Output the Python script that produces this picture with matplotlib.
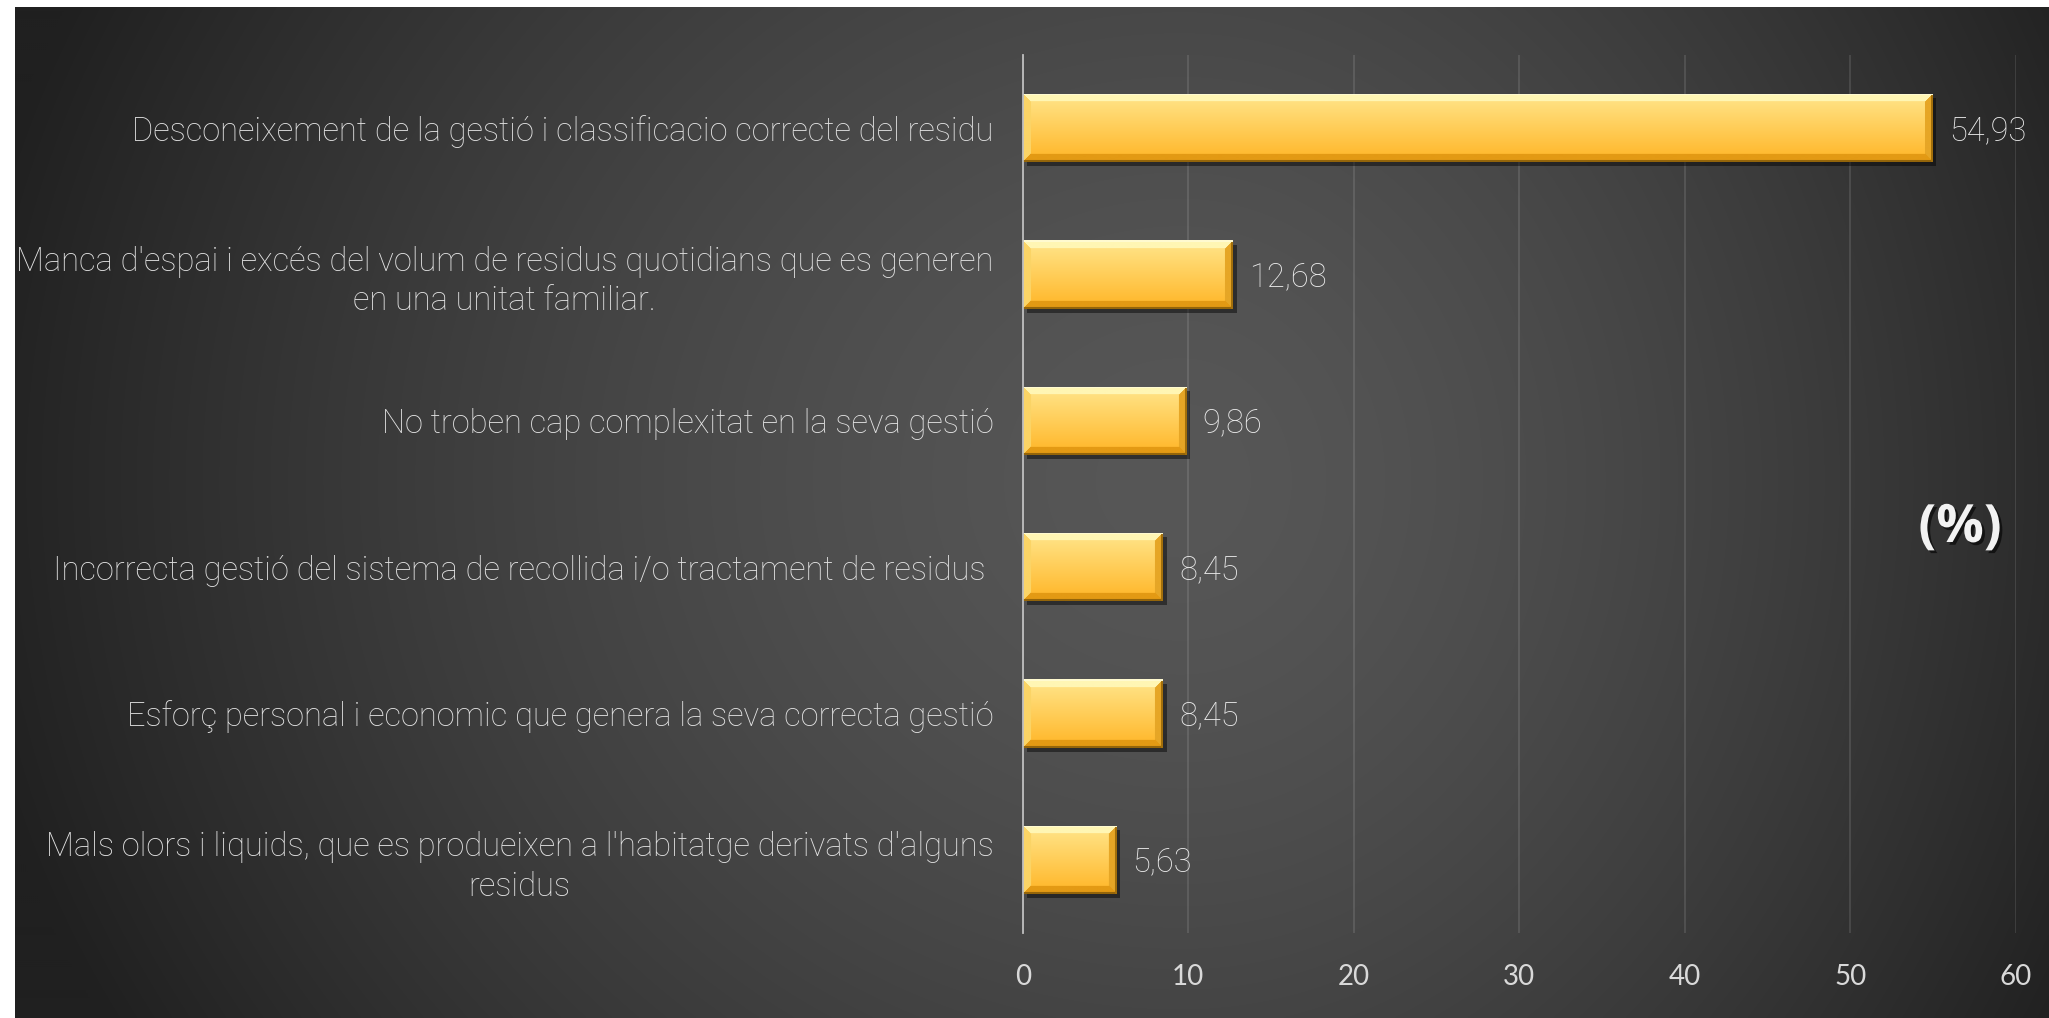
import matplotlib
matplotlib.use('Agg')
import matplotlib.pyplot as plt
import matplotlib.patheffects as pe
import numpy as np

# data
categories = [
    'Desconeixement de la gestió i classificacio correcte del residu',
    "Manca d'espai i excés del volum de residus quotidians que es generen\nen una unitat familiar.",
    'No troben cap complexitat en la seva gestió',
    'Incorrecta gestió del sistema de recollida i/o tractament de residus ',
    'Esforç personal i economic que genera la seva correcta gestió',
    "Mals olors i liquids, que es produeixen a l'habitatge derivats d'alguns\nresidus",
]
values = [54.93, 12.68, 9.86, 8.45, 8.45, 5.63]
value_labels = ['54,93', '12,68', '9,86', '8,45', '8,45', '5,63']
xticks = [0, 10, 20, 30, 40, 50, 60]

W, H, DPI = 2049, 1018, 100
fig = plt.figure(figsize=(W / DPI, H / DPI), dpi=DPI)
fig.patch.set_facecolor('white')

# dark panel with radial gradient
bg = fig.add_axes([15 / W, 0, 1 - 15 / W, 1 - 7 / H], zorder=0)
bg.axis('off')
gx, gy = np.meshgrid(np.arange(15, W, 2), np.arange(7, H, 2))
cx, cy = 1180, 480
dx = gx - cx
rx = np.where(dx < 0, 1170.0, 960.0)
r = np.sqrt((dx / rx) ** 2 + ((gy - cy) / 1060.0) ** 2)
c0, c1 = 87, 36
val = np.clip(c0 - (c0 - c1) * r ** 1.5, c1 - 4, c0) / 255.0
bg.imshow(np.dstack([val, val, val]), extent=(0, 1, 0, 1), aspect='auto',
          interpolation='bilinear', origin='upper')
bg.set_xlim(0, 1)
bg.set_ylim(0, 1)

# main chart
ax = fig.add_axes([1022.7 / W, 1 - 933 / H, (2016 - 1022.7) / W, (933 - 55) / H], zorder=2)
ax.patch.set_alpha(0)
ypos = np.arange(len(categories))
bars = ax.barh(ypos, values, height=0.465, color='#FFC83C', zorder=3,
               path_effects=[pe.SimplePatchShadow(offset=(3, -3), shadow_rgbFace='black', alpha=0.45),
                             pe.Normal()])
ax.set_xlim(0, 60)
ax.set_ylim(len(categories) - 0.5, -0.5)
ax.set_xticks(xticks)
ax.set_xticklabels([str(t) for t in xticks])
ax.set_yticks(ypos)
ax.set_yticklabels(categories)
ax.tick_params(axis='both', length=0)
ax.tick_params(axis='y', pad=21)
ax.tick_params(axis='x', pad=22)
for lab in ax.get_yticklabels():
    lab.set_multialignment('center')
    lab.set_family('Roboto')
    lab.set_weight('light')
    lab.set_fontsize(23.5)
    lab.set_color('#E2E2E2')
    lab.set_linespacing(1.3)
for lab in ax.get_xticklabels():
    lab.set_family('Lato')
    lab.set_fontsize(20)
    lab.set_color('#D9D9D9')
ax.grid(axis='x', color='white', alpha=0.13, linewidth=1.2, zorder=1)
ax.set_axisbelow(True)
for s in ['top', 'right', 'bottom']:
    ax.spines[s].set_visible(False)
ax.spines['left'].set_color('#BFBFBF')
ax.spines['left'].set_linewidth(1.3)
ax.spines['left'].set_zorder(4)


def hexrgb(h):
    return np.array([int(h[i:i + 2], 16) for i in (1, 3, 5)]) / 255.0


# bevelled gradient fill for each bar
fig.canvas.draw()
top_c, bot_c = hexrgb('#FFE68C'), hexrgb('#FFB526')
for bar in bars:
    x0, y0 = bar.get_x(), bar.get_y()
    bw, bh = bar.get_width(), bar.get_height()
    p0 = ax.transData.transform((x0, y0))
    p1 = ax.transData.transform((x0 + bw, y0 + bh))
    wp = max(int(abs(p1[0] - p0[0])), 4)
    hp = max(int(abs(p1[1] - p0[1])), 4)
    ii, jj = np.mgrid[0:hp, 0:wp]
    t = (ii / (hp - 1))[..., None]
    img = top_c * (1 - t) + bot_c * t
    b = 8
    d = np.stack([ii, hp - 1 - ii, jj, wp - 1 - jj])
    m = d.min(axis=0)
    edge = d.argmin(axis=0)
    shades = [hexrgb('#FFF6B4'), hexrgb('#E39A14'), hexrgb('#FBD466'), hexrgb('#E6A626')]
    for k in range(4):
        mask = (m < b) & (edge == k)
        img[mask] = shades[k]
    dark = hexrgb('#94650A')
    img[(hp - 1 - ii) < 2] = dark
    img[((wp - 1 - jj) < 2)] = dark * 1.1
    img[ii < 2] = hexrgb('#FFFAD0')
    im = ax.imshow(img, extent=(x0, x0 + bw, y0 + bh, y0), aspect='auto',
                   interpolation='bilinear', zorder=3.5)
    im.set_clip_path(bar)

for bar, lab in zip(bars, value_labels):
    ax.annotate(lab, (bar.get_width(), bar.get_y() + bar.get_height() / 2),
                xytext=(12, -2), textcoords='offset points', ha='left', va='center',
                fontsize=23.5, family='Roboto', weight='light', color='#EAEAEA', zorder=5)

fig.text(1960 / W, 1 - 528 / H, '(%)', ha='center', va='center', fontsize=38,
         family='Open Sans', weight='bold', color='#F2F2F2', zorder=5,
         path_effects=[pe.SimplePatchShadow(offset=(2, -2), shadow_rgbFace='black', alpha=0.6),
                       pe.Normal()])

fig.savefig('out.png', dpi=DPI, facecolor='white')
